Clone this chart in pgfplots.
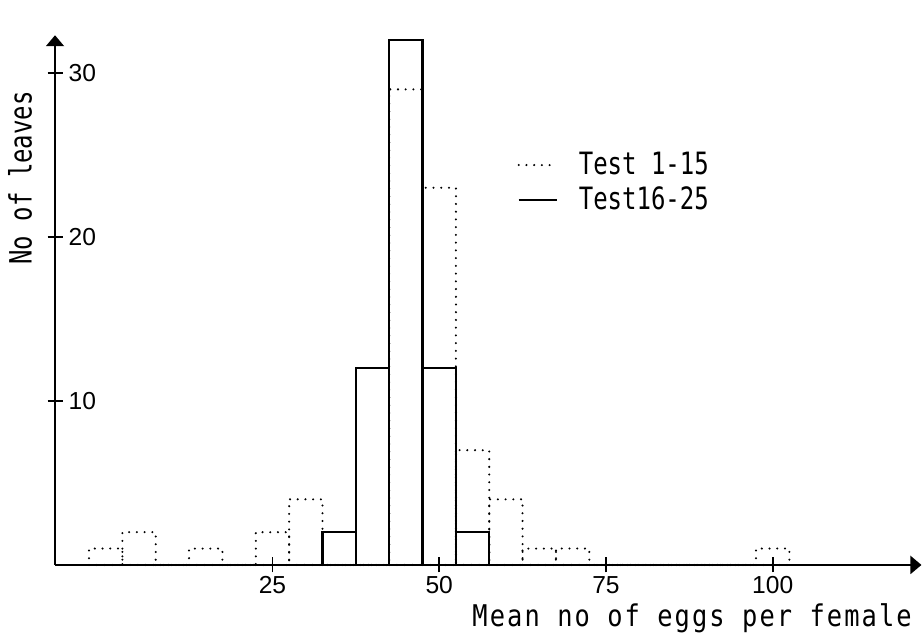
\documentclass[border=0pt]{standalone}
\usepackage{fontspec}
\setmainfont{Liberation Sans}
\newfontfamily\plotfont[FakeStretch=0.78]{DejaVu Sans Mono}
\newfontfamily\labelfont[FakeStretch=0.85,LetterSpace=7]{DejaVu Sans Mono}
\usepackage{pgfplots}
\usepackage{pgfplotstable}
\pgfplotsset{compat=1.18}
\usetikzlibrary{arrows.meta}

% histogram bins are 5 wide, centred on multiples of 5 (edges at x.5)
\pgfplotstableread{
edge  n
-2.5  1
2.5   2
7.5   0
12.5  1
17.5  0
22.5  2
27.5  4
32.5  0
37.5  0
42.5  29
47.5  23
52.5  7
57.5  4
62.5  1
67.5  1
72.5  0
77.5  0
82.5  0
87.5  0
92.5  0
97.5  1
102.5 1
}\testA
\pgfplotstableread{
edge  n
32.5  2
37.5  12
42.5  32
47.5  12
52.5  2
57.5  2
}\testB

\begin{document}
\begin{tikzpicture}
\begin{axis}[
  x=0.1334cm, y=0.328cm,
  xmin=-7.6, xmax=122.3, ymin=0, ymax=32.3,
  axis lines=left,
  axis line style={line width=1.1pt, -{Triangle[length=0.22cm, width=0.36cm]}},
  xtick={25,50,75,100}, ytick={10,20,30},
  tick align=center, major tick length=0.3cm,
  tick style={line width=1.1pt, black},
  /pgf/number format/assume math mode=true,
  ticklabel style={font=\fontsize{14}{16}\selectfont},
  yticklabel style={anchor=west, xshift=0.3cm},
  xticklabel style={yshift=0.05cm},
  xlabel={Mean no of eggs per female},
  xlabel style={at={(axis cs:120.9,-3.78)}, anchor=base east, font=\labelfont\fontsize{17}{20}\selectfont, inner sep=0pt},
  ylabel={No of leaves},
  ylabel style={at={(axis cs:-12.85,23.6)}, anchor=center, font=\plotfont\fontsize{17.5}{20}\selectfont, inner sep=0pt},
  legend style={draw=none, fill=none, at={(axis cs:60.9,25.6)}, anchor=north west,
    font=\plotfont\fontsize{17.5}{20}\selectfont, row sep=0.05cm,
    /tikz/every odd column/.append style={column sep=0.35cm}},
  legend cell align=left,
  legend image code/.code={\draw[#1] (0cm,0cm) -- (0.76cm,0cm);},
  clip=false,
]
\path (axis cs:-15.85,34.45) rectangle (axis cs:122.68,-4.45);
\addplot[ybar interval, black, line width=1.3pt, dash pattern=on 0pt off 4.4pt, line cap=round]
  table[x=edge, y=n] {\testA};
\addlegendentry{Test 1-15}
\addplot[ybar interval, black, line width=1.3pt]
  table[x=edge, y=n] {\testB};
\addlegendentry{Test16-25}
\end{axis}
\end{tikzpicture}
\end{document}
